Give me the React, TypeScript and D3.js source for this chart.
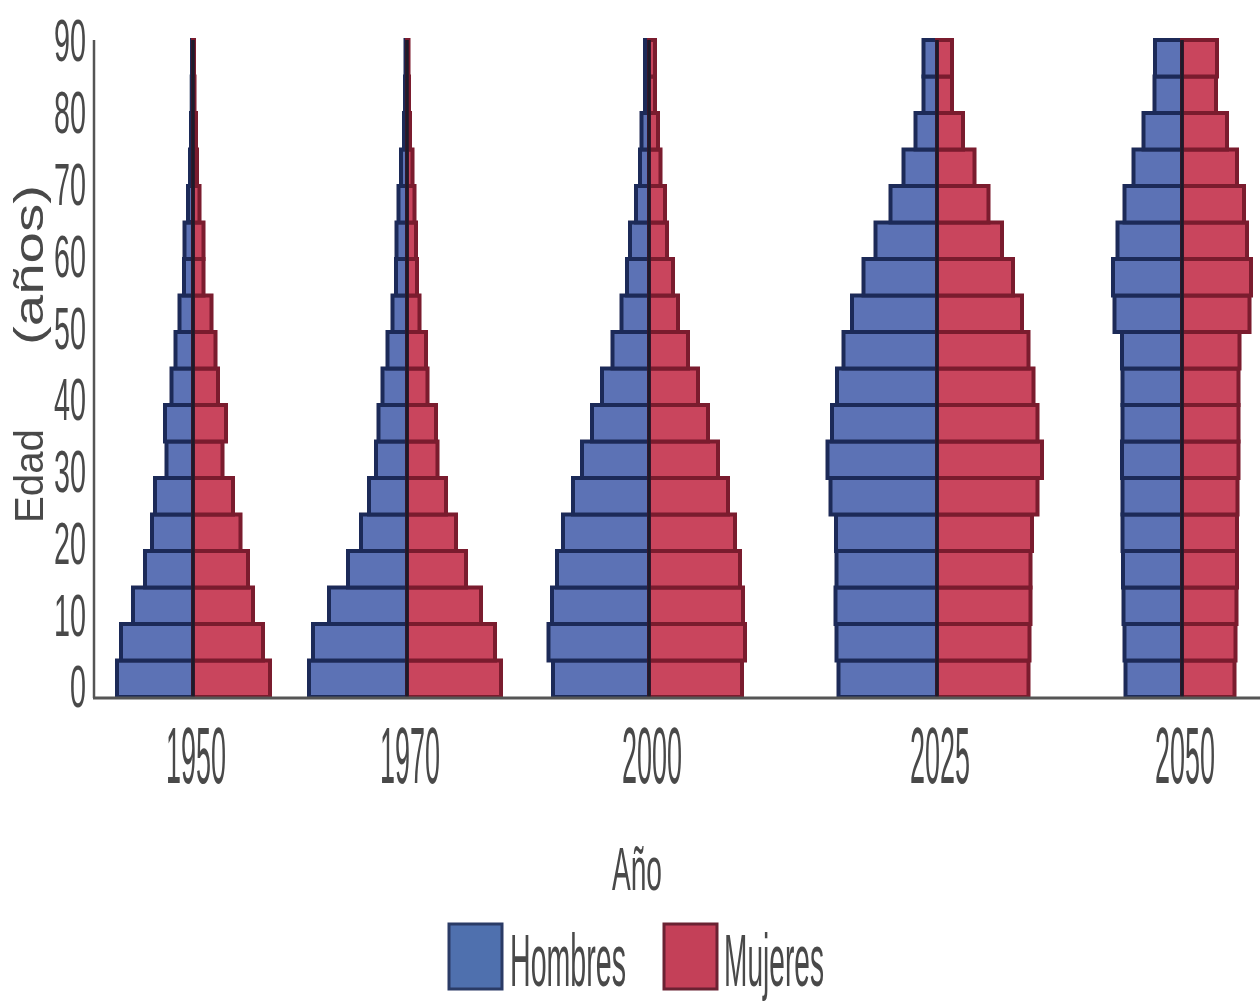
import React from "react";
import * as d3 from "d3";

// Age groups (start of each 5-year group)
const ageStarts = [0, 5, 10, 15, 20, 25, 30, 35, 40, 45, 50, 55, 60, 65, 70, 75, 80, 85];
const years = ["1950", "1970", "2000", "2025", "2050"];
const yTicks = [0, 10, 20, 30, 40, 50, 60, 70, 80, 90];

// Relative population per age group (bottom to top)
const hombres1950 = [76, 72, 60, 48, 41, 38, 26.5, 28, 21.5, 17.5, 13.5, 9, 8.5, 5, 3, 2, 1.3, 1];
const mujeres1950 = [77, 70, 60, 55, 47.5, 40, 29.5, 33, 25, 22.5, 18.5, 10.5, 10.5, 6.5, 4, 3, 1.5, 1];
const hombres1970 = [98, 94, 78, 59, 46, 38, 31, 28.5, 24.5, 19.5, 14.5, 11, 10.5, 8.5, 6, 3, 2, 1.5];
const mujeres1970 = [94, 88, 74, 59, 49, 39, 30.5, 29, 20.5, 19, 12.5, 10, 9, 7.5, 5.5, 3, 2, 1.5];
const hombres2000 = [96, 100.5, 97, 92, 86, 76, 67, 57, 47, 36.5, 27.5, 22, 19, 13, 9, 7.5, 4, 4];
const mujeres2000 = [93, 96, 94, 91, 86, 79, 69, 59, 49, 39, 29, 24, 18, 16, 11.5, 9, 6, 6];
const hombres2025 = [98.5, 100.5, 101.5, 100.5, 101, 106.5, 109.5, 105, 100, 93.5, 85, 73.5, 61.5, 46.5, 33.5, 21.5, 13.5, 13.5];
const mujeres2025 = [91.5, 92.5, 93.5, 93.5, 95, 100.5, 105, 100.5, 96.5, 91.5, 85, 76, 65, 51.5, 37.5, 26, 15, 15];
const hombres2050 = [56.5, 57.5, 58.5, 59, 59.5, 59.5, 60, 59.5, 59.5, 60, 67.5, 69, 64.5, 57.5, 48.5, 38.5, 27.5, 27];
const mujeres2050 = [52.5, 53.5, 54.5, 55, 55, 55.5, 56.5, 56.5, 56.5, 57.5, 67.5, 69, 65, 62, 55, 45, 34, 35];

const hombres = [hombres1950, hombres1970, hombres2000, hombres2025, hombres2050];
const mujeres = [mujeres1950, mujeres1970, mujeres2000, mujeres2025, mujeres2050];

// Layout
const W = 1260;
const H = 1002;
const pyramidCenters = [193, 407, 649, 937, 1182];

const BLUE = "#5b72b5";
const BLUE_STROKE = "#1f2c58";
const RED = "#c9455d";
const RED_STROKE = "#7a1a2e";
const TEXT = "#4a4a4a";
const AXIS = "#555555";
const FONT = "'Liberation Sans', Arial, sans-serif";
const DIGIT_EM = 0.556;

// condensed text via horizontal scale (natural width in em given)
function CText(props: {
  x: number;
  y: number;
  size: number;
  em: number;
  width: number;
  anchor?: "start" | "middle" | "end";
  children: string;
}) {
  const sx = props.width / (props.em * props.size);
  return (
    <text
      transform={`translate(${props.x},${props.y}) scale(${sx},1)`}
      fontFamily={FONT}
      fontSize={props.size}
      fill={TEXT}
      textAnchor={props.anchor || "start"}
    >
      {props.children}
    </text>
  );
}

export default function App() {
  const y = d3.scaleLinear().domain([0, 90]).range([697, 40]);
  const yLab = d3.scaleLinear().domain([0, 90]).range([686, 40]);
  const x = d3.scaleLinear().domain([0, 100]).range([0, 100]);
  const step = 5;

  return (
    <svg
      width={W}
      height={H}
      viewBox={`0 0 ${W} ${H}`}
      style={{ position: "absolute", left: 0, top: 0, background: "#fff" }}
    >
      <defs>
        <filter id="soft" x="-5%" y="-5%" width="110%" height="110%">
          <feGaussianBlur stdDeviation="0.7" />
        </filter>
      </defs>
      <rect x={0} y={0} width={W} height={H} fill="#fff" />
      <g filter="url(#soft)">
        {years.map((yr, k) => {
          const cx = pyramidCenters[k];
          return (
            <g key={yr}>
              {ageStarts.map((a, i) => {
                const yTop = y(a + step);
                const h = y(a) - y(a + step);
                const wm = x(hombres[k][i]);
                const wf = x(mujeres[k][i]);
                return (
                  <g key={a}>
                    <rect x={cx - wm} y={yTop} width={wm} height={h} fill={BLUE} stroke={BLUE_STROKE} strokeWidth={4} />
                    <rect x={cx} y={yTop} width={wf} height={h} fill={RED} stroke={RED_STROKE} strokeWidth={4} />
                  </g>
                );
              })}
              <line x1={cx} x2={cx} y1={y(0)} y2={y(90)} stroke="#1e1a2c" strokeWidth={3.5} />
              <CText x={cx + 3} y={783} size={80} em={4 * DIGIT_EM} width={60} anchor="middle">
                {yr}
              </CText>
            </g>
          );
        })}

        {/* axes */}
        <line x1={94} x2={94} y1={y(90)} y2={y(0) + 1} stroke={AXIS} strokeWidth={2.5} />
        <line x1={93} x2={1260} y1={y(0) + 1} y2={y(0) + 1} stroke={AXIS} strokeWidth={3} />

        {yTicks.map((t) => (
          <CText
            key={t}
            x={86}
            y={yLab(t) + 0.358 * 60}
            size={60}
            em={String(t).length * DIGIT_EM}
            width={String(t).length * 16}
            anchor="end"
          >
            {String(t)}
          </CText>
        ))}

        {/* y title */}
        <g transform="translate(43,523) rotate(-90)">
          <text x={0} y={0} fontFamily={FONT} fontSize={40} fill={TEXT} textLength={94} lengthAdjust="spacingAndGlyphs">
            Edad
          </text>
          <text x={178} y={0} fontFamily={FONT} fontSize={40} fill={TEXT} textLength={160} lengthAdjust="spacingAndGlyphs">
            (años)
          </text>
        </g>

        {/* x title */}
        <CText x={637} y={890} size={62} em={1.779} width={50} anchor="middle">
          Año
        </CText>

        {/* legend */}
        <rect x={449} y={924} width={53} height={65} fill="#4f6fae" stroke="#2a3a66" strokeWidth={3} />
        <CText x={510} y={986} size={74} em={4.056} width={116}>
          Hombres
        </CText>
        <rect x={664} y={924} width={53} height={65} fill="#c43f58" stroke="#6a2030" strokeWidth={3} />
        <CText x={724} y={986} size={74} em={3.556} width={100}>
          Mujeres
        </CText>
      </g>
    </svg>
  );
}
